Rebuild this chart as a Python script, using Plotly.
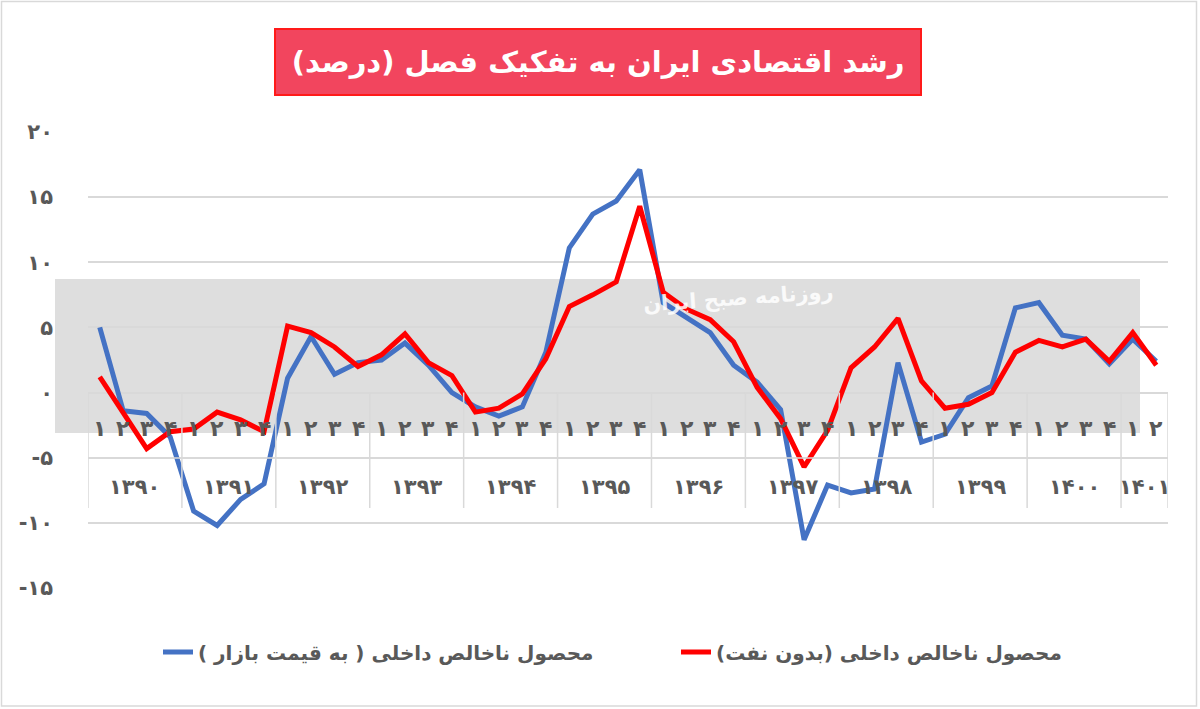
import plotly.graph_objects as go

# ---------------- data ----------------
years = ['۱۳۹۰', '۱۳۹۱', '۱۳۹۲', '۱۳۹۳', '۱۳۹۴', '۱۳۹۵', '۱۳۹۶', '۱۳۹۷', '۱۳۹۸', '۱۳۹۹', '۱۴۰۰', '۱۴۰۱']
quarters_per_year = [4, 4, 4, 4, 4, 4, 4, 4, 4, 4, 4, 2]
quarter_labels = ['۱', '۲', '۳', '۴']

gdp_market = [5.0, -1.4, -1.6, -3.4,
              -9.1, -10.2, -8.2, -7.0,
              1.1, 4.3, 1.4, 2.3,
              2.5, 3.8, 2.1, 0.0,
              -1.1, -1.8, -1.1, 3.1,
              11.1, 13.7, 14.7, 17.1,
              6.9, 5.8, 4.6, 2.1,
              0.8, -1.3, -11.3, -7.1,
              -7.7, -7.4, 2.3, -3.8,
              -3.2, -0.4, 0.5, 6.5,
              6.9, 4.4, 4.1, 2.2,
              4.1, 2.4]

gdp_non_oil = [1.2, -1.5, -4.3, -3.0,
               -2.8, -1.5, -2.1, -3.0,
               5.1, 4.6, 3.5, 2.0,
               2.9, 4.5, 2.3, 1.3,
               -1.5, -1.2, -0.1, 2.6,
               6.6, 7.5, 8.5, 14.3,
               7.7, 6.4, 5.6, 3.9,
               0.4, -2.0, -5.7, -2.9,
               1.9, 3.5, 5.7, 0.9,
               -1.2, -0.9, 0.0, 3.1,
               4.0, 3.5, 4.1, 2.4,
               4.6, 2.1]

y_ticks = [-15, -10, -5, 0, 5, 10, 15, 20]
y_tick_text = ['-۱۵', '-۱۰', '-۵', '۰', '۵', '۱۰', '۱۵', '۲۰']

name_market = 'محصول ناخالص داخلی ( به قیمت بازار )\u200f'
name_non_oil = 'محصول ناخالص داخلی (بدون نفت)\u200f'
title_text = 'رشد اقتصادی ایران به تفکیک فصل (درصد)\u200f'
watermark_text = 'روزنامه صبح ایران'

# ---------------- layout geometry ----------------
W, H = 1200, 709
ML, MR, MT, MB = 88, 32, 132, 121
plot_w = W - ML - MR
plot_h = H - MT - MB
Y0, Y1 = y_ticks[0], y_ticks[-1]
FONT = 'DejaVu Sans'
GRAY_TXT = '#595959'
GRID = '#d9d9d9'


def py_to_val(py):
    return Y1 - (py - MT) * (Y1 - Y0) / plot_h


def px_to_paper(px):
    return (px - ML) / plot_w


def py_to_paper(py):
    return (H - MB - py) / plot_h


n = len(gdp_market)
xs = list(range(n))

fig = go.Figure()
fig.add_trace(go.Scatter(x=xs, y=gdp_market, mode='lines', name=name_market,
                         line=dict(color='#4472C4', width=5), legend='legend'))
fig.add_trace(go.Scatter(x=xs, y=gdp_non_oil, mode='lines', name=name_non_oil,
                         line=dict(color='#FF0000', width=5), legend='legend2'))

shapes = []
annotations = []

# watermark band
shapes.append(dict(type='rect', xref='paper', yref='paper',
                   x0=px_to_paper(55), x1=px_to_paper(1140),
                   y0=py_to_paper(433), y1=py_to_paper(279),
                   fillcolor='#c8c8c8', opacity=0.6, line=dict(width=0), layer='between'))

# category table below the zero line
row_mid = py_to_val(458)
table_bottom = py_to_val(508)
shapes.append(dict(type='line', xref='x', yref='y', x0=-0.5, x1=n - 0.5,
                   y0=row_mid, y1=row_mid, line=dict(color=GRID, width=1.5)))
start = 0
bounds = [-0.5]
for yr, q in zip(years, quarters_per_year):
    for k in range(q):
        annotations.append(dict(x=start + k, y=py_to_val(428), xref='x', yref='y',
                                text=quarter_labels[k], showarrow=False,
                                font=dict(family=FONT, size=22, color=GRAY_TXT, weight='bold')))
    annotations.append(dict(x=start + (q - 1) / 2, y=py_to_val(487), xref='x', yref='y',
                            text=yr, showarrow=False,
                            font=dict(family=FONT, size=21, color=GRAY_TXT, weight='bold')))
    start += q
    bounds.append(start - 0.5)
for b in bounds:
    shapes.append(dict(type='line', xref='x', yref='y', x0=b, x1=b,
                       y0=0, y1=table_bottom, line=dict(color=GRID, width=1.5)))

# outer chart frame
shapes.append(dict(type='rect', xref='paper', yref='paper',
                   x0=px_to_paper(1.5), x1=px_to_paper(1196.5),
                   y0=py_to_paper(706), y1=py_to_paper(1.5),
                   line=dict(color=GRID, width=1.5), fillcolor='rgba(0,0,0,0)'))

# title box
annotations.append(dict(x=px_to_paper(598), y=py_to_paper(62), xref='paper', yref='paper',
                        xanchor='center', yanchor='middle',
                        text=title_text, showarrow=False,
                        font=dict(family=FONT, size=29, color='white', weight='bold'),
                        bgcolor='#F2455E', bordercolor='#FF1A1A', borderwidth=2,
                        width=644, height=64, borderpad=0))

# watermark label
annotations.append(dict(x=px_to_paper(738), y=py_to_paper(298), xref='paper', yref='paper',
                        xanchor='center', yanchor='middle',
                        text=watermark_text, showarrow=False, textangle=-4,
                        font=dict(family=FONT, size=21, color='white', weight='bold'),
                        opacity=0.85))

legend_font = dict(family=FONT, size=20, color=GRAY_TXT, weight='bold')

fig.update_layout(
    width=W, height=H, autosize=False,
    margin=dict(l=ML, r=MR, t=MT, b=MB),
    paper_bgcolor='white', plot_bgcolor='white',
    shapes=shapes, annotations=annotations,
    showlegend=True,
    legend=dict(orientation='h', x=px_to_paper(158), xanchor='left',
                y=py_to_paper(652), yanchor='middle',
                font=legend_font, bgcolor='rgba(0,0,0,0)'),
    legend2=dict(orientation='h', x=px_to_paper(676), xanchor='left',
                 y=py_to_paper(652), yanchor='middle',
                 font=legend_font, bgcolor='rgba(0,0,0,0)'),
    xaxis=dict(range=[-0.5, n - 0.5], showgrid=False, zeroline=False,
               showticklabels=False, ticks='', showline=False),
    yaxis=dict(range=[Y0, Y1], tickvals=y_ticks, ticktext=y_tick_text,
               showgrid=True, gridcolor=GRID, gridwidth=1.5, zeroline=False,
               showline=False, ticks='', ticklabelstandoff=34,
               tickfont=dict(family=FONT, size=21, color=GRAY_TXT, weight='bold')),
)

fig.write_html('out.html', config={'displayModeBar': False},
               post_script="document.body.style.margin='0';")
